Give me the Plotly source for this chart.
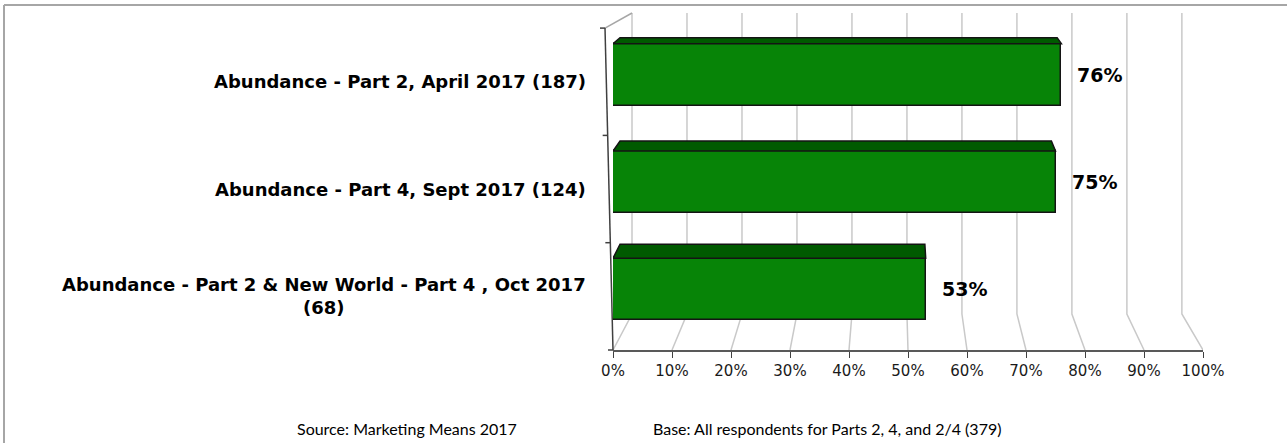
import plotly.graph_objects as go

# ---------------- data ----------------
categories = [
    "Abundance - Part 2 & New World - Part 4 , Oct 2017<br>(68)",
    "Abundance - Part 4, Sept 2017 (124)",
    "Abundance - Part 2, April 2017 (187)",
]
values = [53, 75, 76]
x_ticks = [0, 10, 20, 30, 40, 50, 60, 70, 80, 90, 100]
x_tick_labels = [f"{t}%" for t in x_ticks]
source_text = "Source: Marketing Means 2017"
base_text = "Base: All respondents for Parts 2, 4, and 2/4 (379)"

# ---------------- layout geometry (page pixels, body margin removed) ----------------
W, H = 1287, 443
PLOT_L, PLOT_R, PLOT_T, PLOT_B = 613, 1203, 13, 350
ML, MR, MT, MB = PLOT_L, W - PLOT_R, PLOT_T, H - PLOT_B
PW, PH = PLOT_R - PLOT_L, PLOT_B - PLOT_T
Y_LO = -0.5
PX_PER_Y = 107.3
Y_HI = Y_LO + PH / PX_PER_Y
PX_PER_X = PW / 100.0

def px_to_paper_x(px):
    return (px - PLOT_L) / PW

def px_to_paper_y(py):
    return (PLOT_B - py) / PH

def y_to_paper(y):
    return (y - Y_LO) / (Y_HI - Y_LO)

BAR_W = 0.58
BAR_SHIFT = 0.065
FRONT = "#078407"
TOP = "#005a00"
EDGE = "#141414"
GRID = "#c9c9c9"
AXIS = "#404040"

positions = list(range(len(categories)))

fig = go.Figure()
fig.add_trace(go.Bar(
    x=values, y=positions, orientation="h",
    width=BAR_W, offset=-BAR_W / 2 + BAR_SHIFT,
    marker=dict(color=FRONT, line=dict(color=EDGE, width=1.5)),
    hoverinfo="skip", showlegend=False,
))

shapes = []
# back-wall gridlines (3D look)
back_off = 19 / PX_PER_X
back_scale = 0.932
bend_y = Y_LO + 36 / PX_PER_Y
for t in x_ticks:
    bx = back_off + back_scale * t
    shapes.append(dict(type="path", xref="x", yref="y",
                       path=f"M {bx} {Y_HI} L {bx} {bend_y} L {t} {Y_LO}",
                       line=dict(color=GRID, width=1.5), layer="below"))

# slanted category axis (drawn in paper space so it is not clipped)
ax_top_px = 605
top_y = Y_LO + len(categories)
shapes.append(dict(type="line", xref="paper", yref="paper",
                   x0=px_to_paper_x(ax_top_px), y0=y_to_paper(top_y),
                   x1=px_to_paper_x(PLOT_L + 19), y1=1.0,
                   line=dict(color="#a6a6a6", width=1.5)))
shapes.append(dict(type="line", xref="paper", yref="paper",
                   x0=px_to_paper_x(ax_top_px), y0=y_to_paper(top_y),
                   x1=0, y1=0, line=dict(color=AXIS, width=1.5)))
for k in range(len(categories) + 1):
    yy = Y_LO + k
    ax_px = PLOT_L + (ax_top_px - PLOT_L) * k / len(categories)
    shapes.append(dict(type="line", xref="paper", yref="paper",
                       x0=px_to_paper_x(ax_px - 5), y0=y_to_paper(yy),
                       x1=px_to_paper_x(ax_px), y1=y_to_paper(yy),
                       line=dict(color=AXIS, width=1.5)))

# 3D top faces of the bars
frac = 0.37
for p, v in zip(positions, values):
    yt = p + BAR_SHIFT + BAR_W / 2
    depth = (6 + 4 * (len(categories) - 1 - p)) / PX_PER_Y
    xl_b = frac * back_off
    xr_b = v + frac * (back_off + (back_scale - 1) * v)
    shapes.append(dict(type="path", xref="x", yref="y",
                       path=f"M 0 {yt} L {xl_b} {yt + depth} L {xr_b} {yt + depth} L {v} {yt} Z",
                       fillcolor=TOP, line=dict(color=EDGE, width=1.5), layer="above"))

# outer frame
fx0, fy0 = px_to_paper_x(4), px_to_paper_y(5)
shapes.append(dict(type="line", xref="paper", yref="paper", x0=fx0, y0=fy0,
                   x1=px_to_paper_x(1300), y1=fy0, line=dict(color="#a6a6a6", width=2)))
shapes.append(dict(type="line", xref="paper", yref="paper", x0=fx0, y0=fy0,
                   x1=fx0, y1=px_to_paper_y(450), line=dict(color="#a6a6a6", width=2)))

annotations = []
LABEL_FONT = dict(family="DejaVu Sans", size=18, color="#000000")
VAL_FONT = dict(family="DejaVu Sans", size=19, color="#000000")
for p, c in zip(positions, categories):
    annotations.append(dict(x=px_to_paper_x(588), xref="paper", y=p, yref="y",
                            text=f"<b>{c}</b>", showarrow=False, xanchor="right",
                            yanchor="middle", align="center", font=LABEL_FONT))
for p, v in zip(positions, values):
    annotations.append(dict(x=v, xref="x", y=p + BAR_SHIFT, yref="y",
                            text=f"<b>{v}%</b>", showarrow=False, xanchor="left",
                            yanchor="middle", xshift=14, font=VAL_FONT))
FOOT_FONT = dict(family="Lato", size=16, color="#000000")
annotations.append(dict(x=px_to_paper_x(295), xref="paper", y=px_to_paper_y(428), yref="paper",
                        text=source_text, showarrow=False, xanchor="left", yanchor="middle",
                        font=FOOT_FONT))
annotations.append(dict(x=px_to_paper_x(651), xref="paper", y=px_to_paper_y(428), yref="paper",
                        text=base_text, showarrow=False, xanchor="left", yanchor="middle",
                        font=FOOT_FONT))

fig.update_layout(
    width=W, height=H,
    margin=dict(l=ML, r=MR, t=MT, b=MB),
    paper_bgcolor="white", plot_bgcolor="white",
    shapes=shapes, annotations=annotations,
    xaxis=dict(range=[0, 100], tickvals=x_ticks, ticktext=x_tick_labels,
               showgrid=False, zeroline=False, showline=True, linecolor="#595959",
               linewidth=1.5, ticks="outside", ticklen=6, tickcolor=AXIS,
               tickfont=dict(family="DejaVu Sans", size=15, color="#1a1a1a"),
               fixedrange=True),
    yaxis=dict(range=[Y_LO, Y_HI], showgrid=False, zeroline=False, showticklabels=False,
               showline=False, fixedrange=True),
    bargap=0,
)

fig.write_html("out.html", config={"displayModeBar": False},
               post_script="document.body.style.margin='0';")
